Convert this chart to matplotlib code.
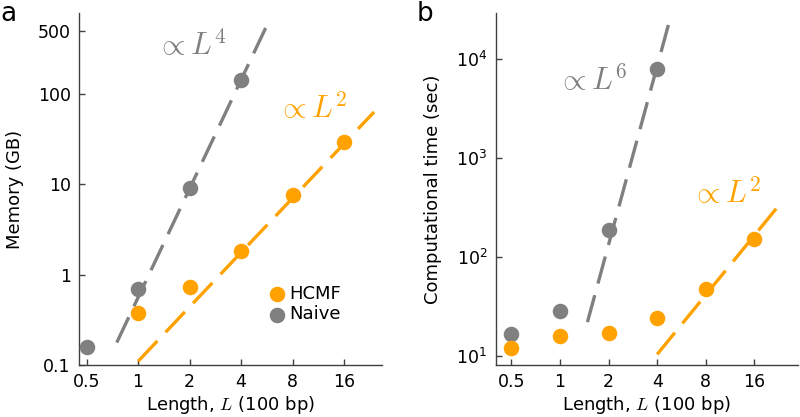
import numpy as np
import matplotlib
matplotlib.use("Agg")
import matplotlib.pyplot as plt
from matplotlib.ticker import FixedLocator, FixedFormatter, NullLocator

# ---------------- data ----------------
length_ticks = [0.5, 1, 2, 4, 8, 16]
length_labels = ["0.5", "1", "2", "4", "8", "16"]

# panel a: memory (GB)
mem_naive_L = [0.5, 1, 2, 4]
mem_naive = [0.16, 0.69, 9.2, 143]
mem_hcmf_L = [1, 2, 4, 8, 16]
mem_hcmf = [0.38, 0.74, 1.84, 7.6, 29.7]
mem_ticks = [0.1, 1, 10, 100, 500]
mem_labels = ["0.1", "1", "10", "100", "500"]
# fitted scaling lines: coefficient, exponent, L-range
mem_fit_naive = dict(c=0.56, p=4, Lmin=0.75, Lmax=5.7)
mem_fit_hcmf = dict(c=0.11, p=2, Lmin=1.0, Lmax=24.0)

# panel b: computational time (sec)
time_naive_L = [0.5, 1, 2, 4]
time_naive = [16.6, 28.3, 187, 8000]
time_hcmf_L = [0.5, 1, 2, 4, 8, 16]
time_hcmf = [11.9, 15.8, 17.1, 23.9, 47.6, 153]
time_ticks = [10, 100, 1000, 10000]
time_labels = [r"$\mathdefault{10^{1}}$", r"$\mathdefault{10^{2}}$",
               r"$\mathdefault{10^{3}}$", r"$\mathdefault{10^{4}}$"]
time_fit_naive = dict(c=2.08, p=6, Lmin=1.48, Lmax=4.8)
time_fit_hcmf = dict(c=0.645, p=2, Lmin=4.0, Lmax=22.0)

ORANGE = "#FFA200"
GRAY = "#808080"
SPINE = "#404040"

plt.rcParams["font.family"] = ["DejaVu Sans"]

fig = plt.figure(figsize=(8, 4.17), dpi=100)
axA = fig.add_axes([0.09875, 0.1247, 0.37875, 0.8441])
axB = fig.add_axes([0.6196, 0.1247, 0.3779, 0.8441])

LW = 2.4
DASH = (8.4, 3.6)
MS = 125
TICK_FS = 12.5
LABEL_FS = 13
MATH_FS = 22


def fit_line(ax, fit, color):
    Lg = np.geomspace(fit["Lmin"], fit["Lmax"], 50)
    ax.plot(Lg, fit["c"] * Lg ** fit["p"], color=color, lw=LW,
            dashes=DASH, zorder=3, dash_capstyle="butt")


def style(ax, xlim, ylim, yticks, ylabels, ylabel):
    ax.set_xscale("log", base=2)
    ax.set_yscale("log")
    ax.set_xlim(*xlim)
    ax.set_ylim(*ylim)
    ax.xaxis.set_major_locator(FixedLocator(length_ticks))
    ax.xaxis.set_major_formatter(FixedFormatter(length_labels))
    ax.xaxis.set_minor_locator(NullLocator())
    ax.yaxis.set_major_locator(FixedLocator(yticks))
    ax.yaxis.set_major_formatter(FixedFormatter(ylabels))
    ax.yaxis.set_minor_locator(NullLocator())
    for s in ["top", "right"]:
        ax.spines[s].set_visible(False)
    for s in ["left", "bottom"]:
        ax.spines[s].set_color(SPINE)
        ax.spines[s].set_linewidth(1.0)
    ax.tick_params(direction="in", length=4, width=1.0, color=SPINE,
                   labelsize=TICK_FS, pad=6)
    ax.set_xlabel(r"Length, $L$ (100 bp)", fontsize=LABEL_FS, labelpad=2,
                  math_fontfamily="cm")
    ax.set_ylabel(ylabel, fontsize=LABEL_FS, labelpad=10)
    ax.patch.set_alpha(0)


# ---- panel a ----
fit_line(axA, mem_fit_naive, GRAY)
fit_line(axA, mem_fit_hcmf, ORANGE)
hn = axA.scatter(mem_naive_L, mem_naive, s=MS, color=GRAY, zorder=4,
                 linewidths=0, label="Naive")
hh = axA.scatter(mem_hcmf_L, mem_hcmf, s=MS, color=ORANGE, zorder=4,
                 linewidths=0, label="HCMF")
style(axA, (0.451, 26.7), (0.1, 790), mem_ticks, mem_labels, "Memory (GB)")
axA.text(0.255, 0.881, r"$\propto L^4$", transform=axA.transAxes,
         color=GRAY, fontsize=MATH_FS, math_fontfamily="cm", va="baseline")
axA.text(0.652, 0.702, r"$\propto L^2$", transform=axA.transAxes,
         color=ORANGE, fontsize=MATH_FS, math_fontfamily="cm", va="baseline")
axA.legend(handles=[hh, hn], loc="center left",
           bbox_to_anchor=(0.588, 0.173), frameon=False, fontsize=LABEL_FS,
           handletextpad=0.1, labelspacing=0.15, borderpad=0,
           handlelength=1.2, scatterpoints=1)

# ---- panel b ----
fit_line(axB, time_fit_naive, GRAY)
fit_line(axB, time_fit_hcmf, ORANGE)
axB.scatter(time_naive_L, time_naive, s=MS, color=GRAY, zorder=4,
            linewidths=0)
axB.scatter(time_hcmf_L, time_hcmf, s=MS, color=ORANGE, zorder=5,
            linewidths=0)
style(axB, (0.4, 29.8), (8.05, 29400), time_ticks, time_labels,
      "Computational time (sec)")
axB.text(0.203, 0.781, r"$\propto L^6$", transform=axB.transAxes,
         color=GRAY, fontsize=MATH_FS, math_fontfamily="cm", va="baseline")
axB.text(0.646, 0.46, r"$\propto L^2$", transform=axB.transAxes,
         color=ORANGE, fontsize=MATH_FS, math_fontfamily="cm", va="baseline")

fig.text(0.0, 1 - 21 / 417, "a", fontsize=19, va="baseline", ha="left")
fig.text(417 / 800, 1 - 21 / 417, "b", fontsize=19, va="baseline", ha="left")

fig.savefig("out.png", dpi=100)
